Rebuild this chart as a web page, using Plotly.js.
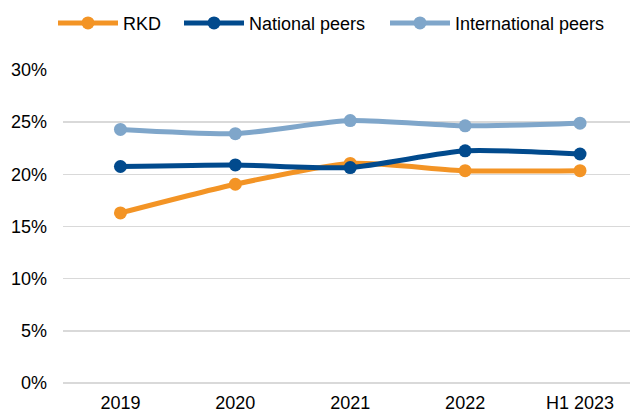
<!DOCTYPE html>
<html>
<head>
<meta charset="utf-8">
<script src="https://cdn.plot.ly/plotly-3.0.1.min.js"></script>
<style>
  html, body { margin: 0; padding: 0; background: #fff; }
  #chart { width: 630px; height: 414px; }
</style>
</head>
<body>
<div id="chart"></div>
<script>
const categories = ["2019", "2020", "2021", "2022", "H1 2023"];
const rkd = [16.3, 19.05, 21.05, 20.35, 20.35];
const nationalPeers = [20.75, 20.9, 20.65, 22.25, 21.95];
const internationalPeers = [24.3, 23.9, 25.15, 24.65, 24.9];
const seriesNames = ["RKD", "National peers", "International peers"];
const yTickVals = [0, 5, 10, 15, 20, 25, 30];
const yTickText = ["0%", "5%", "10%", "15%", "20%", "25%", "30%"];

const colors = ["#F39425", "#014A8D", "#7FA6CA"];
const seriesData = [rkd, nationalPeers, internationalPeers];
const legendIds = ["legend", "legend2", "legend3"];
const legendX = [53, 179, 385];

const traces = seriesData.map((vals, i) => ({
  x: categories,
  y: vals,
  name: seriesNames[i],
  legend: legendIds[i],
  type: "scatter",
  mode: "lines+markers",
  line: { color: colors[i], width: 5, shape: "spline", smoothing: 0.6 },
  marker: { color: colors[i], size: 13 },
  hoverinfo: "skip"
}));

const layout = {
  width: 630,
  height: 414,
  paper_bgcolor: "#ffffff",
  plot_bgcolor: "#ffffff",
  font: { family: "Liberation Sans, Arial, sans-serif", size: 18, color: "#000000" },
  margin: { l: 62.5, r: 0, t: 70, b: 31, pad: 0 },
  showlegend: true,
  xaxis: {
    type: "category",
    range: [-0.5, 4.435],
    showgrid: false,
    zeroline: false,
    showline: false,
    ticks: "",
    ticklabelstandoff: 7,
    tickfont: { size: 18 },
    fixedrange: true
  },
  yaxis: {
    range: [0, 30],
    tickvals: yTickVals,
    ticktext: yTickText,
    showgrid: true,
    gridcolor: "#D9D9D9",
    gridwidth: 1.5,
    zeroline: true,
    zerolinecolor: "#D9D9D9",
    zerolinewidth: 1.5,
    showline: false,
    ticks: "",
    ticklabelstandoff: 15,
    tickfont: { size: 18 },
    fixedrange: true
  }
};

legendIds.forEach((id, i) => {
  layout[id] = {
    orientation: "h",
    x: legendX[i] / 630, xanchor: "left", xref: "container",
    y: 0.944, yanchor: "middle", yref: "container",
    font: { size: 18, color: "#000000" },
    itemwidth: 60,
    bgcolor: "rgba(0,0,0,0)"
  };
});

Plotly.newPlot("chart", traces, layout, { staticPlot: true, displayModeBar: false });
</script>
</body>
</html>
